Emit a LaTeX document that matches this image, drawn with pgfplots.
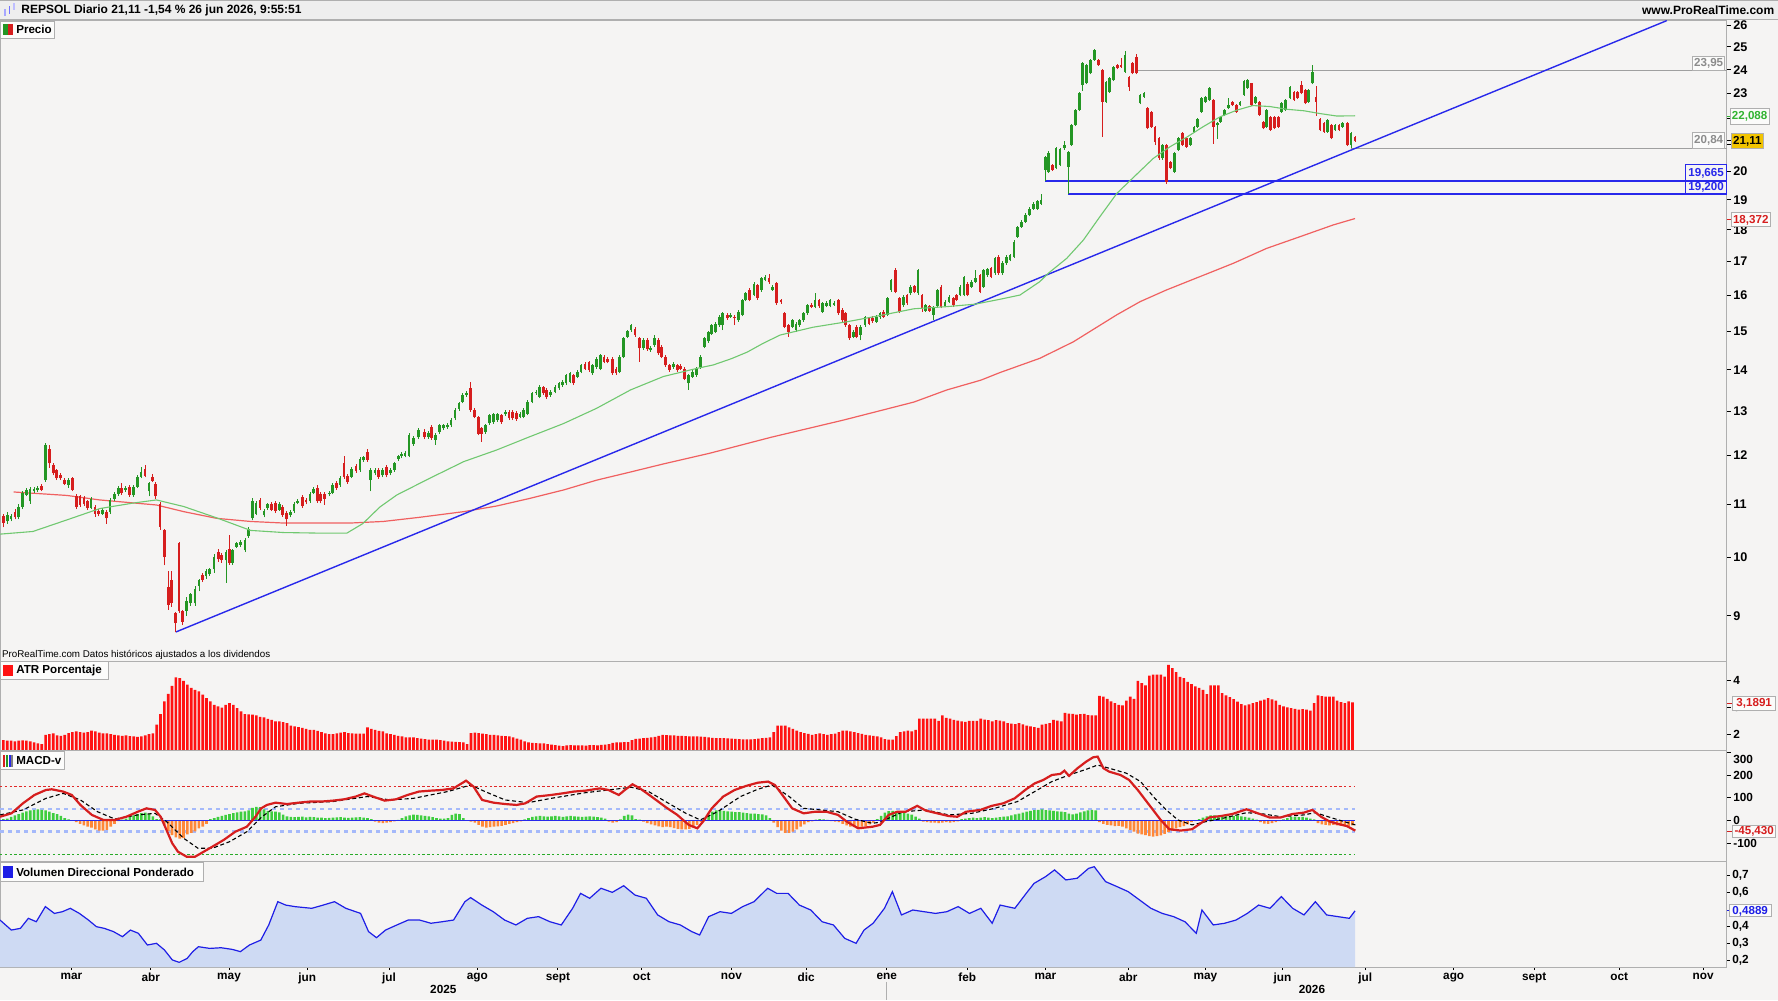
\documentclass[border=0pt]{standalone}
\usepackage{pgfplots}
\usepackage{pgfplotstable}
\pgfplotsset{compat=1.18}
\usepackage{fontspec}
\setmainfont{Liberation Sans}
\definecolor{bg}{RGB}{245,244,243}
\definecolor{hdr}{RGB}{238,238,238}
\definecolor{cgreen}{RGB}{36,150,36}
\definecolor{cred}{RGB}{214,30,30}
\definecolor{magreen}{RGB}{112,200,112}
\definecolor{mared}{RGB}{240,96,96}
\definecolor{tline}{RGB}{40,40,235}
\definecolor{atrred}{RGB}{255,18,18}
\definecolor{hgreen}{RGB}{62,205,62}
\definecolor{horange}{RGB}{255,135,55}
\definecolor{volfill}{RGB}{206,218,243}
\definecolor{volline}{RGB}{30,30,230}
\definecolor{framegray}{RGB}{175,175,175}
\definecolor{labgreen}{RGB}{50,180,50}
\definecolor{yellowbox}{RGB}{242,196,0}
\definecolor{dotblue}{RGB}{165,185,250}
\definecolor{dotgreen}{RGB}{40,170,40}
\definecolor{dotred}{RGB}{225,40,40}
\definecolor{boxgray}{RGB}{140,140,140}
\newcommand{\fsz}[1]{\fontsize{#1}{#1}\selectfont}

\pgfplotstableread{
b z o h l c
0 10 10.76 10.80 10.55 10.64
0 22 10.66 10.85 10.62 10.78
0 33 10.70 10.80 10.66 10.77
0 45 10.84 10.90 10.70 10.74
0 55 10.74 11.00 10.70 10.95
0 67 10.95 11.25 10.90 11.21
0 80 11.18 11.33 11.15 11.28
0 90 11.05 11.35 11.00 11.31
0 102 11.25 11.34 11.22 11.31
0 113 11.27 11.36 11.24 11.33
0 125 11.36 11.40 11.25 11.29
0 137 11.48 12.27 11.45 12.23
0 148 12.15 12.23 11.74 11.83
0 160 11.80 11.85 11.58 11.62
0 170 11.69 11.72 11.48 11.52
0 182 11.58 11.62 11.48 11.52
0 193 11.48 11.52 11.38 11.41
0 205 11.38 11.52 11.33 11.48
0 217 11.52 11.55 11.25 11.28
0 230 11.15 11.20 10.90 10.95
0 240 11.15 11.18 10.95 10.98
0 252 11.12 11.16 10.96 10.99
0 262 11.05 11.08 10.88 10.92
0 273 10.92 11.14 10.90 11.10
0 285 10.95 10.98 10.75 10.81
0 296 10.86 10.90 10.76 10.80
0 308 10.81 10.92 10.78 10.88
0 320 10.84 10.88 10.62 10.72
0 330 10.84 11.12 10.80 11.08
0 343 11.10 11.24 11.06 11.20
0 355 11.20 11.36 11.16 11.33
0 365 11.33 11.42 11.18 11.22
0 377 11.28 11.36 11.24 11.33
0 388 11.35 11.38 11.14 11.18
0 400 11.17 11.38 11.14 11.35
0 412 11.35 11.58 11.32 11.55
0 423 11.55 11.75 11.52 11.65
0 435 11.72 11.80 11.54 11.57
0 447 11.25 11.45 11.15 11.42
0 457 11.55 11.60 11.44 11.47
0 467 11.40 11.44 11.10 11.15
0 480 11.00 11.03 10.50 10.56
0 493 10.50 10.52 9.85 10.00
0 505 9.48 9.75 9.10 9.18
0 515 9.60 9.75 9.15 9.20
0 527 9.04 9.06 8.74 8.88
0 537 10.25 10.28 9.05 9.07
0 548 9.07 9.10 8.85 8.90
0 560 9.08 9.30 9.00 9.24
0 572 9.20 9.38 9.16 9.35
0 585 9.20 9.50 9.16 9.45
0 597 9.50 9.62 9.40 9.60
0 608 9.68 9.72 9.56 9.60
0 618 9.66 9.78 9.62 9.75
0 628 9.70 9.81 9.67 9.78
0 642 9.78 10.05 9.72 10.00
0 655 10.10 10.14 9.92 9.96
0 665 10.03 10.07 9.90 9.94
0 678 9.94 10.12 9.55 10.09
0 688 10.15 10.40 9.86 9.90
0 698 9.90 10.15 9.86 10.12
0 710 10.19 10.28 10.16 10.25
0 722 10.22 10.31 10.19 10.28
0 735 10.12 10.35 10.09 10.32
0 745 10.38 10.56 10.35 10.52
0 757 10.72 11.12 10.68 11.06
0 768 10.81 11.05 10.78 11.01
0 780 11.08 11.12 10.88 10.92
0 792 10.78 10.90 10.74 10.86
0 803 10.92 11.02 10.89 10.99
0 815 11.00 11.04 10.86 10.89
0 826 11.02 11.06 10.82 10.86
0 838 10.89 11.04 10.86 11.00
0 848 10.94 10.98 10.75 10.79
0 860 10.82 10.86 10.58 10.70
0 872 10.78 10.88 10.74 10.84
0 882 10.86 11.04 10.83 11.00
0 893 11.02 11.10 10.99 11.06
0 907 11.14 11.18 10.92 10.96
0 918 11.08 11.12 10.99 11.03
0 930 11.05 11.24 11.02 11.20
0 940 11.22 11.34 11.19 11.30
0 952 11.33 11.38 11.02 11.05
0 962 11.20 11.24 11.01 11.05
0 973 11.20 11.23 10.98 11.10
0 988 11.19 11.26 11.15 11.22
0 998 11.22 11.42 11.19 11.38
0 1010 11.42 11.46 11.29 11.33
0 1020 11.38 11.56 11.35 11.52
0 1032 11.84 12.00 11.51 11.55
0 1043 11.57 11.61 11.41 11.45
0 1055 11.55 11.76 11.52 11.72
0 1068 11.78 11.82 11.63 11.67
0 1080 11.69 11.97 11.66 11.93
0 1090 11.90 12.00 11.87 11.96
0 1102 12.07 12.15 11.87 11.91
0 1112 11.48 11.73 11.25 11.69
0 1125 11.62 11.73 11.58 11.69
0 1135 11.69 11.73 11.51 11.55
0 1147 11.58 11.74 11.54 11.70
0 1160 11.76 11.80 11.54 11.58
0 1172 11.62 11.74 11.58 11.70
0 1183 11.70 11.87 11.66 11.83
0 1195 11.92 12.02 11.88 11.98
0 1205 11.98 12.07 11.94 12.03
0 1215 12.00 12.09 11.96 12.05
0 1227 12.00 12.49 11.96 12.45
0 1240 12.25 12.42 12.21 12.38
0 1255 12.40 12.60 12.36 12.56
202.84 583 12.52 12.58 12.36 12.41
202.84 595 12.41 12.54 12.37 12.50
202.84 605 12.63 12.68 12.34 12.38
202.84 617 12.34 12.49 12.24 12.45
202.84 628 12.52 12.71 12.48 12.67
202.84 640 12.60 12.71 12.56 12.67
202.84 652 12.62 12.72 12.59 12.68
202.84 663 12.67 12.83 12.63 12.79
202.84 675 12.83 13.06 12.79 13.02
202.84 687 13.05 13.22 13.01 13.18
202.84 698 13.22 13.42 13.18 13.38
202.84 710 13.38 13.48 13.34 13.42
202.84 722 13.54 13.70 12.98 13.02
202.84 733 13.02 13.06 12.83 12.87
202.84 745 12.85 12.89 12.44 12.48
202.84 755 12.60 12.64 12.30 12.48
202.84 767 12.52 12.71 12.48 12.67
202.84 778 12.72 12.94 12.68 12.90
202.84 790 12.74 12.96 12.70 12.92
202.84 802 12.79 12.96 12.75 12.92
202.84 814 12.90 12.94 12.70 12.74
202.84 826 12.92 13.02 12.88 12.98
202.84 837 12.98 13.02 12.79 12.83
202.84 848 12.98 13.02 12.79 12.83
202.84 860 12.95 12.99 12.77 12.81
202.84 870 12.87 12.98 12.83 12.94
202.84 880 12.87 13.07 12.83 13.03
202.84 893 12.94 13.26 12.90 13.22
202.84 906 13.22 13.46 13.18 13.42
202.84 918 13.42 13.50 13.38 13.46
202.84 928 13.34 13.62 13.30 13.58
202.84 940 13.56 13.60 13.38 13.42
202.84 950 13.50 13.54 13.28 13.32
202.84 962 13.38 13.50 13.34 13.46
202.84 975 13.46 13.62 13.42 13.58
202.84 987 13.54 13.70 13.50 13.66
202.84 998 13.62 13.74 13.58 13.70
202.84 1008 13.66 13.90 13.62 13.86
202.84 1020 13.70 13.95 13.66 13.91
202.84 1030 13.86 13.90 13.62 13.66
202.84 1042 13.83 13.99 13.79 13.95
202.84 1053 13.95 14.15 13.91 14.11
202.84 1065 14.15 14.19 13.99 14.03
202.84 1077 14.19 14.23 13.95 13.99
202.84 1088 13.91 14.15 13.87 14.11
202.84 1100 14.07 14.32 14.03 14.28
202.84 1112 14.03 14.41 13.99 14.37
202.84 1122 14.33 14.37 14.16 14.20
202.84 1133 14.28 14.32 14.16 14.20
202.84 1147 14.28 14.32 13.87 13.91
202.84 1158 14.03 14.07 13.87 13.91
202.84 1168 13.95 14.37 13.91 14.33
202.84 1180 14.33 14.85 14.29 14.81
202.84 1192 14.86 15.04 14.82 15.00
202.84 1203 15.03 15.20 14.99 15.16
202.84 1215 15.07 15.11 14.86 14.90
202.84 1228 14.81 14.85 14.20 14.55
202.84 1240 14.55 14.82 14.51 14.78
202.84 1252 14.78 14.82 14.48 14.52
202.84 1262 14.50 14.61 14.46 14.57
202.84 1273 14.63 14.90 14.59 14.81
202.84 1285 14.77 14.81 14.38 14.42
202.84 1295 14.59 14.63 14.29 14.33
202.84 1307 14.33 14.37 14.07 14.11
202.84 1318 14.11 14.15 13.95 13.99
202.84 1330 14.07 14.19 14.03 14.15
202.84 1342 14.11 14.15 13.95 13.99
202.84 1352 14.10 14.14 13.99 14.03
202.84 1364 14.03 14.07 13.74 13.78
202.84 1376 13.66 13.90 13.50 13.86
202.84 1387 13.83 13.99 13.79 13.95
202.84 1400 13.87 14.07 13.83 14.03
202.84 1412 14.07 14.37 14.03 14.33
202.84 1423 14.59 14.85 14.55 14.81
202.84 1435 14.73 15.02 14.69 14.98
599.7 95 14.94 15.21 14.90 15.17
599.7 107 14.99 15.25 14.95 15.21
599.7 118 15.17 15.44 15.13 15.40
599.7 128 15.17 15.53 15.03 15.49
599.7 142 15.45 15.50 15.31 15.35
599.7 152 15.40 15.50 15.36 15.46
599.7 163 15.40 15.44 15.17 15.35
599.7 175 15.30 15.58 15.26 15.54
599.7 187 15.45 15.91 15.41 15.87
599.7 197 15.87 16.10 15.83 16.06
599.7 208 16.17 16.21 15.83 15.87
599.7 222 16.01 16.38 15.97 16.34
599.7 233 16.30 16.34 15.88 15.92
599.7 244 16.15 16.54 16.11 16.50
599.7 255 16.45 16.60 16.41 16.53
599.7 267 16.50 16.62 16.34 16.38
599.7 278 16.17 16.29 16.13 16.25
599.7 290 16.35 16.39 15.73 15.77
599.7 303 15.87 15.91 15.76 15.80
599.7 314 15.49 15.53 15.08 15.12
599.7 325 15.17 15.21 14.85 14.99
599.7 337 15.12 15.34 15.08 15.30
599.7 348 15.03 15.25 14.99 15.21
599.7 358 15.17 15.34 15.13 15.30
599.7 370 15.30 15.53 15.26 15.49
599.7 382 15.49 15.76 15.45 15.72
599.7 395 15.74 15.78 15.63 15.67
599.7 405 15.67 16.08 15.63 15.87
599.7 417 15.87 15.91 15.65 15.69
599.7 428 15.54 15.81 15.50 15.77
599.7 440 15.70 15.83 15.66 15.79
599.7 450 15.70 15.91 15.66 15.87
599.7 462 15.74 15.83 15.70 15.79
599.7 475 15.87 15.91 15.45 15.49
599.7 487 15.59 15.63 15.26 15.30
599.7 497 15.49 15.53 15.13 15.17
599.7 508 15.17 15.21 14.77 14.81
599.7 520 14.85 15.03 14.81 14.99
599.7 530 15.12 15.16 14.81 14.85
599.7 542 14.90 15.16 14.76 15.12
599.7 555 15.17 15.42 15.13 15.38
599.7 567 15.35 15.39 15.17 15.21
599.7 578 15.37 15.41 15.23 15.27
599.7 589 15.26 15.44 15.22 15.40
599.7 600 15.38 15.53 15.34 15.49
599.7 611 15.54 15.58 15.36 15.40
599.7 622 15.45 15.96 15.41 15.92
599.7 633 16.15 16.49 16.11 16.45
599.7 647 16.74 16.80 16.06 16.10
599.7 658 15.92 15.96 15.50 15.54
599.7 670 15.72 16.00 15.68 15.96
599.7 681 16.01 16.05 15.73 15.77
599.7 692 16.06 16.29 16.02 16.25
599.7 703 16.27 16.31 16.06 16.10
599.7 714 16.06 16.78 16.02 16.74
599.7 726 16.01 16.05 15.54 15.63
599.7 737 15.57 15.76 15.53 15.72
599.7 748 15.69 15.73 15.53 15.57
599.7 760 15.45 15.71 15.30 15.67
599.7 772 15.69 16.19 15.65 16.15
599.7 783 16.25 16.29 15.63 15.67
599.7 795 15.70 15.86 15.66 15.82
599.7 807 15.82 16.00 15.78 15.96
599.7 820 15.92 15.96 15.68 15.72
599.7 830 16.01 16.05 15.83 15.87
599.7 840 16.01 16.29 15.97 16.25
599.7 852 16.01 16.57 15.97 16.53
599.7 863 16.34 16.38 15.97 16.01
599.7 875 16.25 16.44 16.21 16.40
599.7 886 16.40 16.74 16.36 16.50
599.7 900 16.59 16.63 16.06 16.10
599.7 910 16.25 16.78 16.21 16.74
599.7 922 16.59 16.81 16.55 16.77
599.7 933 16.80 16.84 16.50 16.54
599.7 945 16.65 17.14 16.61 17.10
599.7 956 17.15 17.19 16.61 16.65
599.7 967 16.65 17.01 16.61 16.97
599.7 980 16.95 17.19 16.91 17.15
599.7 990 17.05 17.24 17.01 17.20
599.7 1002 17.15 17.66 17.11 17.62
599.7 1013 17.78 18.14 17.74 18.10
599.7 1025 18.10 18.31 18.06 18.27
899.55 17 18.27 18.54 18.23 18.50
899.55 28 18.48 18.74 18.44 18.70
899.55 40 18.70 18.91 18.66 18.87
899.55 52 18.70 19.00 18.66 18.96
899.55 63 18.87 19.20 18.83 18.98
899.55 76 20.04 20.56 19.66 20.52
899.55 86 19.97 20.72 19.93 20.68
899.55 97 20.22 20.26 20.00 20.04
899.55 108 20.10 20.87 20.06 20.83
899.55 120 20.22 20.84 20.18 20.80
899.55 133 20.83 21.10 20.79 20.96
899.55 145 20.16 20.75 19.20 20.71
899.55 155 20.96 21.76 20.92 21.72
899.55 166 21.72 22.36 21.68 22.32
899.55 178 22.32 23.04 22.28 23.00
899.55 188 23.34 24.31 23.10 24.27
899.55 200 23.41 24.24 23.37 24.20
899.55 211 23.84 24.46 23.80 24.42
899.55 223 24.42 24.92 24.38 24.88
899.55 235 24.42 24.46 24.16 24.20
899.55 247 23.98 24.02 21.27 22.65
899.55 258 22.65 23.53 22.61 23.49
899.55 268 23.07 23.67 23.03 23.63
899.55 280 23.55 24.17 23.51 24.13
899.55 292 24.20 24.24 24.01 24.05
899.55 303 24.20 24.50 24.09 24.13
899.55 315 23.91 24.80 23.87 24.64
899.55 327 23.70 23.74 23.10 23.27
899.55 338 24.27 24.31 23.80 23.84
899.55 350 24.55 24.70 23.80 23.84
899.55 360 22.59 22.97 22.55 22.93
899.55 372 22.86 23.04 22.82 23.00
899.55 383 22.39 22.43 21.56 21.60
899.55 395 22.25 22.29 21.62 21.66
899.55 405 21.66 21.70 20.96 21.08
899.55 417 21.21 21.25 20.42 20.46
899.55 428 20.46 21.00 20.42 20.96
899.55 440 20.96 21.00 19.54 19.62
899.55 452 20.34 20.38 20.06 20.10
899.55 463 19.97 20.69 19.93 20.65
899.55 475 20.77 21.25 20.73 21.21
899.55 488 21.40 21.44 20.92 20.96
899.55 500 21.21 21.25 20.86 20.90
899.55 512 20.96 21.25 20.92 21.21
899.55 522 21.47 21.70 21.43 21.66
899.55 533 21.66 22.02 21.62 21.98
899.55 545 22.25 22.83 22.21 22.79
899.55 557 22.65 22.90 22.61 22.86
899.55 568 22.72 23.25 22.68 23.21
899.55 580 22.72 22.76 21.00 21.66
899.55 593 21.72 21.83 21.20 21.79
899.55 602 21.86 22.09 21.82 22.05
899.55 613 22.12 22.36 22.08 22.32
899.55 625 22.39 22.80 22.35 22.52
899.55 637 22.65 22.69 22.48 22.52
899.55 650 22.52 22.56 22.21 22.25
899.55 660 22.52 22.69 22.48 22.65
899.55 672 22.93 23.56 22.89 23.52
899.55 683 23.21 23.59 23.17 23.55
899.55 695 23.41 23.45 22.48 22.52
899.55 707 22.59 22.90 22.55 22.86
899.55 718 22.65 22.69 22.08 22.12
899.55 730 21.86 21.90 21.56 21.60
899.55 740 21.66 22.36 21.62 22.32
899.55 752 22.05 22.09 21.49 21.53
899.55 764 22.05 22.09 21.56 21.60
899.55 775 22.05 22.09 21.62 21.66
899.55 785 22.25 22.63 22.21 22.59
899.55 797 22.32 22.76 22.28 22.72
899.55 810 22.79 23.31 22.75 23.27
899.55 822 23.07 23.11 22.68 22.72
899.55 833 23.07 23.11 22.75 22.79
899.55 845 23.34 23.50 22.96 23.00
899.55 857 23.14 23.18 22.55 22.59
899.55 865 22.65 23.18 22.61 23.14
899.55 877 23.41 24.20 23.37 23.91
899.55 888 22.86 23.30 22.10 22.65
899.55 900 21.98 22.02 21.49 21.53
899.55 912 21.79 21.83 21.43 21.47
899.55 922 21.47 21.96 21.43 21.92
899.55 935 21.72 21.76 21.17 21.21
899.55 945 21.53 21.76 21.49 21.72
899.55 957 21.72 21.76 21.49 21.53
899.55 968 21.66 21.83 21.62 21.79
899.55 982 21.79 21.83 20.92 20.96
899.55 993 20.96 21.44 20.84 21.40
899.55 1005 21.27 21.31 21.07 21.11
}\candles

\pgfplotstableread{
x p
0 10.42
29 10.47
59 10.69
88 10.91
118 11.02
138 11.08
162 10.95
191 10.73
221 10.49
250 10.45
279 10.44
306 10.44
320 10.62
335 10.94
350 11.18
379 11.52
409 11.87
438 12.12
467 12.41
497 12.71
526 13.06
556 13.50
585 13.83
614 14.03
629 14.12
645 14.28
659 14.45
673 14.68
688 14.90
717 15.11
747 15.26
776 15.43
806 15.62
835 15.68
860 15.75
882 15.89
899.5 16.01
917 16.40
924.5 16.65
940.7 17.10
955.4 17.67
970 18.43
985 19.22
997 19.68
1017 20.46
1032 20.90
1047 21.27
1061 21.66
1076 22.05
1091 22.32
1105 22.50
1120 22.46
1135 22.35
1150 22.29
1164 22.18
1179 22.08
1195 22.09
}\gma

\pgfplotstableread{
x p
12 11.24
59 11.17
88 11.08
118 11.02
138 10.98
162 10.85
191 10.72
221 10.66
250 10.63
279 10.63
309 10.63
338 10.66
370 10.74
409 10.85
438 10.96
467 11.11
497 11.28
526 11.48
556 11.65
585 11.82
626 12.05
680 12.40
744 12.79
806 13.21
835 13.50
865 13.74
882 13.93
917 14.29
946.6 14.72
984.8 15.45
1005.4 15.82
1028.9 16.16
1058.3 16.55
1087.7 16.95
1117.1 17.41
1146.5 17.78
1175.9 18.16
1195 18.37
}\rma

\pgfplotstableread[row sep=\\]{
v\\
1.80\\1.78\\1.78\\1.76\\1.78\\1.79\\1.78\\1.76\\1.72\\1.68\\
1.66\\2.00\\2.02\\2.05\\1.98\\1.96\\2.00\\2.06\\2.10\\2.12\\
2.10\\2.08\\2.10\\2.15\\2.12\\2.08\\2.05\\2.05\\2.02\\2.00\\
1.98\\1.96\\1.98\\1.95\\1.94\\1.92\\1.94\\1.98\\2.02\\2.05\\
2.37\\2.76\\3.23\\3.50\\3.80\\4.11\\4.08\\3.98\\3.84\\3.72\\
3.65\\3.59\\3.47\\3.35\\3.23\\3.10\\3.04\\3.00\\3.10\\3.16\\
3.10\\2.98\\2.86\\2.76\\2.75\\2.74\\2.71\\2.66\\2.64\\2.58\\
2.55\\2.49\\2.49\\2.46\\2.43\\2.34\\2.31\\2.28\\2.25\\2.22\\
2.18\\2.18\\2.14\\2.10\\2.05\\2.02\\2.02\\2.05\\2.08\\2.10\\
2.06\\2.05\\2.04\\2.04\\2.04\\2.27\\2.22\\2.18\\2.14\\2.12\\
2.05\\2.02\\2.00\\1.96\\1.94\\1.90\\1.90\\1.90\\1.88\\1.86\\
1.84\\1.82\\1.82\\1.82\\1.80\\1.78\\1.76\\1.75\\1.74\\1.73\\
1.72\\1.66\\2.06\\2.08\\2.06\\2.04\\2.02\\2.00\\2.00\\1.98\\
1.96\\1.95\\1.94\\1.90\\1.86\\1.82\\1.76\\1.72\\1.70\\1.69\\
1.68\\1.68\\1.66\\1.64\\1.62\\1.60\\1.58\\1.61\\1.62\\1.61\\
1.61\\1.61\\1.60\\1.62\\1.62\\1.61\\1.63\\1.64\\1.66\\1.70\\
1.72\\1.72\\1.73\\1.73\\1.80\\1.85\\1.86\\1.88\\1.89\\1.90\\
1.92\\1.96\\2.00\\1.99\\1.98\\1.98\\1.96\\1.96\\1.95\\1.94\\
1.94\\1.94\\1.93\\1.92\\1.90\\1.89\\1.88\\1.88\\1.88\\1.87\\
1.86\\1.85\\1.84\\1.83\\1.83\\1.83\\1.84\\1.86\\1.88\\1.89\\
1.90\\2.10\\2.34\\2.34\\2.34\\2.27\\2.22\\2.15\\2.10\\2.06\\
2.03\\2.00\\2.02\\2.05\\2.02\\2.00\\2.02\\2.04\\2.10\\2.15\\
2.15\\2.12\\2.10\\2.06\\2.03\\2.00\\1.98\\1.96\\1.94\\1.90\\
1.84\\1.82\\1.82\\1.95\\2.10\\2.12\\2.15\\2.12\\2.18\\2.59\\
2.59\\2.59\\2.59\\2.59\\2.51\\2.71\\2.62\\2.59\\2.55\\2.52\\
2.49\\2.47\\2.51\\2.51\\2.51\\2.59\\2.56\\2.54\\2.49\\2.54\\
2.52\\2.49\\2.43\\2.41\\2.39\\2.43\\2.38\\2.34\\2.31\\2.28\\
2.25\\2.37\\2.40\\2.43\\2.55\\2.52\\2.49\\2.80\\2.78\\2.77\\
2.74\\2.76\\2.77\\2.72\\2.71\\2.71\\3.43\\3.40\\3.32\\3.23\\
3.16\\3.10\\3.08\\3.25\\3.40\\3.32\\3.98\\3.90\\3.81\\4.17\\
4.21\\4.21\\4.21\\4.14\\4.57\\4.45\\4.30\\4.13\\4.08\\3.94\\
3.86\\3.78\\3.72\\3.65\\3.49\\3.81\\3.81\\3.81\\3.53\\3.45\\
3.38\\3.31\\3.22\\3.13\\3.08\\3.12\\3.16\\3.20\\3.25\\3.29\\
3.35\\3.30\\3.25\\3.10\\3.04\\3.01\\2.98\\2.95\\2.92\\2.94\\
2.92\\2.89\\3.16\\3.45\\3.42\\3.40\\3.40\\3.40\\3.25\\3.20\\
3.16\\3.23\\3.19\\
}\atrtab

\pgfplotstableread[row sep=\\]{
v\\
5\\8\\15\\22\\28\\34\\40\\44\\46\\48\\
46\\44\\38\\32\\28\\20\\10\\4\\0\\-8\\
-15\\-22\\-28\\-32\\-40\\-45\\-45\\-42\\-28\\-15\\
-3\\3\\8\\15\\22\\28\\32\\34\\30\\18\\
6\\4\\-20\\-47\\-65\\-75\\-80\\-78\\-62\\-55\\
-48\\-35\\-28\\-15\\5\\10\\15\\20\\24\\28\\
32\\35\\38\\40\\44\\55\\60\\58\\48\\42\\
40\\38\\35\\25\\18\\15\\14\\15\\16\\13\\
15\\14\\12\\12\\10\\11\\12\\13\\14\\12\\
11\\12\\13\\14\\12\\10\\6\\-5\\-10\\-12\\
-10\\-8\\-4\\2\\10\\18\\22\\25\\24\\22\\
20\\18\\14\\10\\8\\8\\10\\24\\30\\28\\
10\\0\\-5\\-10\\-20\\-28\\-32\\-30\\-28\\-26\\
-24\\-20\\-16\\-12\\-8\\-4\\4\\10\\15\\18\\
20\\18\\16\\18\\20\\18\\15\\18\\20\\18\\
16\\15\\17\\18\\16\\14\\12\\8\\-6\\-10\\
-8\\4\\20\\25\\22\\5\\3\\-5\\-12\\-18\\
-22\\-26\\-30\\-28\\-30\\-34\\-38\\-40\\-40\\-38\\
-32\\-20\\-8\\10\\25\\38\\44\\44\\42\\40\\
38\\36\\36\\34\\32\\30\\30\\28\\26\\22\\
10\\-10\\-30\\-45\\-55\\-55\\-50\\-40\\-28\\-18\\
-8\\-4\\3\\5\\4\\2\\-3\\-5\\-8\\-15\\
-22\\-28\\-30\\-30\\-28\\-25\\-18\\-10\\5\\20\\
34\\41\\42\\40\\38\\36\\30\\25\\16\\8\\
-5\\-8\\-10\\-10\\-12\\-10\\-8\\-10\\-8\\-4\\
5\\8\\10\\12\\10\\12\\14\\12\\10\\12\\
14\\16\\18\\22\\26\\30\\34\\38\\42\\45\\
46\\48\\45\\44\\42\\40\\38\\36\\30\\26\\
30\\35\\40\\44\\46\\44\\-8\\-15\\-20\\-22\\
-25\\-24\\-28\\-35\\-42\\-50\\-58\\-62\\-65\\-70\\
-72\\-70\\-66\\-60\\-52\\-45\\-35\\-30\\-25\\-18\\
-8\\-3\\5\\12\\18\\22\\22\\20\\22\\20\\
18\\20\\22\\18\\15\\12\\8\\3\\-8\\-14\\
-15\\-12\\-8\\-3\\4\\10\\15\\15\\14\\15\\
12\\8\\4\\-12\\-18\\-20\\-22\\-20\\-22\\-24\\
-25\\-24\\-22\\
}\histtab

\pgfplotsset{panel/.style={
  scale only axis, width=863.47pt, xmin=0, xmax=1523,
  anchor=south west,
  axis background/.style={fill=bg},
  axis line style={framegray, line width=0.5pt},
  xtick=\empty,
  ytick pos=right, yticklabel pos=right,
  tick align=outside, major tick length=2pt,
  tick style={black, line width=0.4pt},
  yticklabel style={font=\fsz{5.9}\bfseries, anchor=west, inner sep=1pt},
  clip=true,
}}

\begin{document}
\begin{tikzpicture}
\path[use as bounding box, fill=bg] (0,0) rectangle (889pt,500.05pt);

% ---------------- PRICE ----------------
\begin{axis}[panel, at={(0pt,169.52pt)}, height=320.33pt,
  ymin=2.115759, ymax=3.266471,
  ytick={2.197225,2.302585,2.397895,2.484907,2.564949,2.639057,2.708050,2.772589,2.833213,2.890372,2.944439,2.995732,3.044522,3.091042,3.135494,3.178054,3.218876,3.258097},
  yticklabels={9,10,11,12,13,14,15,16,17,18,19,20,{},{},23,24,25,26},
  yticklabel style={font=\fsz{6.3}\bfseries}]
\addplot[gray!75, line width=0.5pt] table[x=x, y expr=ln(\thisrow{p})] {x p
1002.5 23.95
1523 23.95
};
\addplot[gray!75, line width=0.5pt] table[x=x, y expr=ln(\thisrow{p})] {x p
1191.5 20.84
1523 20.84
};
\addplot[tline, line width=0.9pt] table[x=x, y expr=ln(\thisrow{p})] {x p
921.8 19.665
1523 19.665
};
\addplot[tline, line width=0.9pt] table[x=x, y expr=ln(\thisrow{p})] {x p
942.2 19.2
1523 19.2
};
\addplot[mared, line width=0.6pt] table[x=x, y expr=ln(\thisrow{p})] \rma;
\addplot[tline, line width=0.7pt] table[x=x, y expr=ln(\thisrow{p})] {x p
155 8.74
1470 26.21
};
\addplot[cgreen, -, line width=0.45pt,
  restrict expr to domain={\thisrow{c}-\thisrow{o}}{0:100},
  quiver={u=0, v={ln(\thisrow{h})-ln(\thisrow{l})}}]
  table[x expr=\thisrow{b}+0.29397*\thisrow{z}, y expr=ln(\thisrow{l})] \candles;
\addplot[cred, -, line width=0.45pt,
  restrict expr to domain={\thisrow{c}-\thisrow{o}}{-100:-0.00001},
  quiver={u=0, v={ln(\thisrow{h})-ln(\thisrow{l})}}]
  table[x expr=\thisrow{b}+0.29397*\thisrow{z}, y expr=ln(\thisrow{l})] \candles;
\addplot[cgreen, -, line width=1.25pt,
  restrict expr to domain={\thisrow{c}-\thisrow{o}}{0:100},
  quiver={u=0, v={ln(\thisrow{c})-ln(\thisrow{o})}}]
  table[x expr=\thisrow{b}+0.29397*\thisrow{z}, y expr=ln(\thisrow{o})] \candles;
\addplot[cred, -, line width=1.25pt,
  restrict expr to domain={\thisrow{c}-\thisrow{o}}{-100:-0.00001},
  quiver={u=0, v={ln(\thisrow{o})-ln(\thisrow{c})}}]
  table[x expr=\thisrow{b}+0.29397*\thisrow{z}, y expr=ln(\thisrow{c})] \candles;
\addplot[magreen, line width=0.55pt] table[x=x, y expr=ln(\thisrow{p})] \gma;
\end{axis}

% ---------------- ATR ----------------
\begin{axis}[panel, at={(0pt,124.73pt)}, height=44.79pt,
  ymin=1.4167, ymax=4.7083, ytick={2,3,4}, yticklabels={2,3,4}]
\addplot[ybar, bar width=2.3, fill=atrred, draw=none] table[x expr=3+3.38*\coordindex, y=v] \atrtab;
\end{axis}

% ---------------- MACD ----------------
\begin{axis}[panel, at={(0pt,69.17pt)}, height=55.56pt,
  ymin=-182.5, ymax=307.5, ytick={-100,0,100,200}, yticklabels={-100,0,100,200},
  extra y ticks={300}, extra y tick labels={300},
  extra y tick style={yticklabel style={yshift=-3.4pt}}]
\addplot[dotred, line width=0.6pt, dash pattern=on 1.2pt off 1.2pt] coordinates {(0,150) (1195,150)};
\addplot[dotgreen, line width=0.6pt, dash pattern=on 1.2pt off 1.2pt] coordinates {(0,-150) (1195,-150)};
\addplot[dotblue, line width=1.3pt, dash pattern=on 2pt off 2pt] coordinates {(0,50) (1195,50)};
\addplot[dotblue, line width=1.3pt, dash pattern=on 2pt off 2pt] coordinates {(0,-50) (1195,-50)};
\addplot[ybar, bar width=2.3, fill=hgreen, draw=none, restrict expr to domain={\thisrow{v}}{0:1000}] table[x expr=3+3.38*\coordindex, y=v] \histtab;
\addplot[ybar, bar width=2.3, fill=horange, draw=none, restrict expr to domain={\thisrow{v}}{-1000:-0.001}] table[x expr=3+3.38*\coordindex, y=v] \histtab;
\addplot[tline, line width=0.8pt] coordinates {(0,0) (1195,0)};
\addplot[black, line width=0.55pt, dash pattern=on 2pt off 1.3pt] coordinates {
(0,24) (20.2,46) (40.5,97) (55.7,119) (70.9,90) (86.1,38) (101.2,6) (121.5,24) (136.7,31) (146.8,-5) (162,-79) (174.6,-123) (187.3,-123) (202.5,-94) (217.7,-50) (230.3,13) (243,60) (263.2,75) (293.6,83) (324,105) (344.2,90) (364.5,97) (394.8,127) (415.1,156) (427.7,127) (445.5,90) (465.7,78) (486,97) (516.3,122) (541.6,137) (556.8,146) (572,127) (589.7,75) (604.9,31) (617.6,2) (632.8,38) (653,105) (668.2,137) (680.8,156) (696,105) (708.7,53) (723.9,46) (739.1,38) (754.2,5) (769.4,-13) (776.1,-8) (796.3,38) (816.5,46) (836.7,24) (856.9,31) (877.1,53) (897.3,83) (912.5,127) (927.6,171) (942.8,200) (957.9,225) (968,244) (978.1,230) (993.3,208) (1005.9,171) (1018.5,97) (1028.6,46) (1038.7,2) (1051.3,-20) (1064,-5) (1079.1,10) (1099.3,34) (1114.5,28) (1129.6,16) (1149.8,24) (1159.9,34) (1175.1,10) (1195.3,-20)};
\addplot[cred, line width=1.1pt] coordinates {
(0,16) (10.1,31) (20.2,75) (30.4,112) (40.5,134) (45.6,137) (55.7,127) (63.3,112) (70.9,68) (81,24) (91.1,2) (101.2,2) (111.4,16) (121.5,38) (129.1,53) (136.7,46) (141.7,16) (146.8,-42) (151.9,-101) (156.9,-138) (164.5,-160) (172.1,-160) (179.7,-138) (187.3,-116) (197.4,-86) (207.5,-50) (217.7,-28) (225.3,16) (230.3,53) (235.4,68) (243,78) (253.1,72) (263.2,78) (273.3,83) (283.5,83) (293.6,87) (303.7,93) (313.8,105) (321.4,119) (329,105) (339.2,87) (349.3,93) (359.4,112) (369.5,127) (379.7,131) (389.8,134) (399.9,141) (411,175) (417.6,149) (425.2,90) (435.3,78) (445.5,72) (455.6,68) (463.2,75) (473.3,105) (486,112) (496.1,119) (506.2,127) (516.3,131) (529,141) (536.6,134) (545.7,112) (551.8,137) (557.8,159) (564.4,141) (574.5,105) (587.2,58) (597.3,24) (607.4,-20) (615,-35) (620.1,-5) (627.7,53) (637.8,105) (647.9,134) (658.1,152) (668.2,166) (677.3,171) (683.4,156) (691,105) (698.6,53) (708.7,31) (718.8,38) (728.9,38) (739.1,24) (746.6,-5) (756.8,-35) (769.4,-28) (776.1,-20) (783.7,24) (791.3,38) (798.8,38) (808.9,64) (816.5,43) (826.6,31) (836.7,19) (844.3,16) (851.9,38) (864.5,46) (874.6,64) (884.7,75) (894.8,97) (904.9,137) (912.5,163) (920,178) (927.6,200) (935.2,205) (938.7,219) (942.8,196) (950.3,230) (957.9,259) (964,278) (968,281) (973.1,230) (978.1,215) (988.2,200) (995.8,178) (1003.4,134) (1013.5,68) (1023.6,2) (1031.2,-39) (1041.2,-45) (1051.3,-39) (1058.9,-13) (1066.5,13) (1076.6,19) (1086.7,28) (1099.3,49) (1109.4,31) (1119.5,13) (1129.6,13) (1139.7,28) (1149.8,34) (1157.4,46) (1165,16) (1172.6,-5) (1180.1,-16) (1187.7,-25) (1195.3,-45.43)};
\end{axis}

% ---------------- VOLUME ----------------
\begin{axis}[panel, at={(0pt,16.44pt)}, height=52.73pt,
  ymin=0.1573, ymax=0.7781, ytick={0.2,0.3,0.4,0.6,0.7}, yticklabels={{0,2},{0,3},{0,4},{0,6},{0,7}},
  xtick={63,133,202,271,343,421,492,566,645,711,782,853,922,995,1063,1131,1204,1282,1353,1428,1502},
  xticklabels={mar,abr,may,jun,jul,ago,sept,oct,nov,dic,ene,feb,mar,abr,may,jun,jul,ago,sept,oct,nov},
  xtick pos=lower, major tick length=1.5pt,
  xticklabel style={font=\fsz{5.9}\bfseries, inner sep=1.2pt}]
\addplot[fill=volfill, draw=none] coordinates {
(0,0.435) (10,0.376) (18,0.386) (25,0.445) (32,0.425) (40,0.514) (48,0.474) (55,0.484) (62,0.504) (70,0.474) (78,0.435) (85,0.396) (92,0.386) (100,0.367) (108,0.337) (115,0.376) (122,0.357) (130,0.288) (138,0.298) (145,0.259) (152,0.200) (158,0.186) (165,0.209) (170,0.249) (175,0.278) (185,0.268) (195,0.272) (205,0.262) (212,0.249) (220,0.288) (230,0.317) (237,0.406) (245,0.543) (252,0.523) (260,0.514) (275,0.504) (285,0.523) (295,0.543) (305,0.504) (318,0.474) (325,0.367) (332,0.331) (340,0.376) (350,0.406) (360,0.435) (370,0.435) (380,0.416) (390,0.425) (400,0.435) (410,0.543) (415,0.567) (425,0.523) (435,0.484) (445,0.435) (455,0.406) (465,0.445) (475,0.455) (485,0.425) (495,0.406) (505,0.504) (512,0.592) (520,0.563) (530,0.622) (540,0.598) (550,0.637) (560,0.582) (570,0.563) (580,0.465) (590,0.425) (600,0.406) (610,0.367) (617,0.347) (625,0.455) (635,0.484) (645,0.474) (655,0.514) (665,0.543) (677,0.622) (685,0.592) (695,0.592) (705,0.523) (715,0.494) (725,0.425) (735,0.406) (745,0.327) (755,0.298) (762,0.376) (770,0.416) (780,0.504) (787,0.602) (795,0.465) (805,0.494) (815,0.484) (825,0.474) (835,0.484) (845,0.514) (855,0.474) (865,0.504) (875,0.416) (882,0.523) (895,0.504) (905,0.592) (912,0.651) (922,0.690) (930,0.730) (940,0.671) (950,0.681) (960,0.739) (965,0.749) (975,0.661) (985,0.632) (995,0.602) (1005,0.553) (1015,0.504) (1025,0.474) (1035,0.455) (1045,0.425) (1055,0.357) (1060,0.494) (1070,0.406) (1080,0.416) (1090,0.435) (1100,0.474) (1110,0.523) (1120,0.504) (1130,0.573) (1140,0.504) (1150,0.465) (1160,0.543) (1170,0.465) (1180,0.455) (1190,0.445) (1195,0.489)} \closedcycle;
\addplot[volline, line width=0.6pt] coordinates {
(0,0.435) (10,0.376) (18,0.386) (25,0.445) (32,0.425) (40,0.514) (48,0.474) (55,0.484) (62,0.504) (70,0.474) (78,0.435) (85,0.396) (92,0.386) (100,0.367) (108,0.337) (115,0.376) (122,0.357) (130,0.288) (138,0.298) (145,0.259) (152,0.200) (158,0.186) (165,0.209) (170,0.249) (175,0.278) (185,0.268) (195,0.272) (205,0.262) (212,0.249) (220,0.288) (230,0.317) (237,0.406) (245,0.543) (252,0.523) (260,0.514) (275,0.504) (285,0.523) (295,0.543) (305,0.504) (318,0.474) (325,0.367) (332,0.331) (340,0.376) (350,0.406) (360,0.435) (370,0.435) (380,0.416) (390,0.425) (400,0.435) (410,0.543) (415,0.567) (425,0.523) (435,0.484) (445,0.435) (455,0.406) (465,0.445) (475,0.455) (485,0.425) (495,0.406) (505,0.504) (512,0.592) (520,0.563) (530,0.622) (540,0.598) (550,0.637) (560,0.582) (570,0.563) (580,0.465) (590,0.425) (600,0.406) (610,0.367) (617,0.347) (625,0.455) (635,0.484) (645,0.474) (655,0.514) (665,0.543) (677,0.622) (685,0.592) (695,0.592) (705,0.523) (715,0.494) (725,0.425) (735,0.406) (745,0.327) (755,0.298) (762,0.376) (770,0.416) (780,0.504) (787,0.602) (795,0.465) (805,0.494) (815,0.484) (825,0.474) (835,0.484) (845,0.514) (855,0.474) (865,0.504) (875,0.416) (882,0.523) (895,0.504) (905,0.592) (912,0.651) (922,0.690) (930,0.730) (940,0.671) (950,0.681) (960,0.739) (965,0.749) (975,0.661) (985,0.632) (995,0.602) (1005,0.553) (1015,0.504) (1025,0.474) (1035,0.455) (1045,0.425) (1055,0.357) (1060,0.494) (1070,0.406) (1080,0.416) (1090,0.435) (1100,0.474) (1110,0.523) (1120,0.504) (1130,0.573) (1140,0.504) (1150,0.465) (1160,0.543) (1170,0.465) (1180,0.455) (1190,0.445) (1195,0.489)};
\end{axis}

% ---------------- ANNOTATIONS (shrunk-pixel frame) ----------------
\begin{scope}[shift={(0pt,500.05pt)}, x=0.56695pt, y=-0.56695pt]
\fill[hdr] (0,0) rectangle (1568,17.5);
\draw[framegray, line width=0.5pt] (0,0.4) -- (1568,0.4);
\draw[framegray, line width=0.5pt] (0,17.5) -- (1568,17.5);
\fill[blue!35] (3.5,8) rectangle (5.2,14);
\fill[blue!55] (7.5,5) rectangle (9.2,12);
\fill[blue!25] (11.5,3) rectangle (13.2,9);
\node[anchor=west, font=\fsz{6}\bfseries, inner sep=0] at (18.5,9) {REPSOL Diario 21,11 -1,54 \% 26 jun 2026, 9:55:51};
\node[anchor=east, font=\fsz{6}\bfseries, inner sep=0] at (1565,9) {www.ProRealTime.com};
\filldraw[fill=white!70!bg, draw=framegray, line width=0.4pt] (0,18.5) rectangle (48,33.5);
\fill[cgreen] (2.5,21.5) rectangle (7,31);
\fill[cred] (7,21.5) rectangle (11.5,31);
\node[anchor=west, font=\fsz{5.8}\bfseries, inner sep=0] at (14,26.2) {Precio};
\node[anchor=west, font=\fsz{4.9}, inner sep=0] at (1.5,577.5) {ProRealTime.com  Datos históricos ajustados a los dividendos};
\filldraw[fill=white!70!bg, draw=framegray, line width=0.4pt] (0,583.5) rectangle (96,599);
\fill[atrred] (2.5,586.5) rectangle (11.5,596);
\node[anchor=west, font=\fsz{5.8}\bfseries, inner sep=0] at (14,591.4) {ATR Porcentaje};
\filldraw[fill=white!70!bg, draw=framegray, line width=0.4pt] (0,662.5) rectangle (57,678.5);
\fill[cred] (2.5,665.5) rectangle (4.5,676);
\fill[cgreen] (5,665.5) rectangle (7,676);
\fill[tline] (7.5,665.5) rectangle (9.5,676);
\fill[gray] (10,665.5) rectangle (11.5,676);
\node[anchor=west, font=\fsz{5.8}\bfseries, inner sep=0] at (14,670.8) {MACD-v};
\filldraw[fill=white!70!bg, draw=framegray, line width=0.4pt] (0,760.5) rectangle (179,777);
\fill[volline] (2.5,763.5) rectangle (11.5,774);
\node[anchor=west, font=\fsz{5.8}\bfseries, inner sep=0] at (14,769) {Volumen Direccional Ponderado};
\filldraw[fill=white!60!bg, draw=framegray, line width=0.4pt] (1492.7,49.4) rectangle (1521,62.3);
\node[text=boxgray, font=\fsz{5.8}\bfseries, inner sep=0] at (1506.85,55.9) {23,95};
\filldraw[fill=white!60!bg, draw=framegray, line width=0.4pt] (1492.7,117) rectangle (1521,130.8);
\node[text=boxgray, font=\fsz{5.8}\bfseries, inner sep=0] at (1506.85,124) {20,84};
\draw[tline, line width=0.6pt] (1486.6,144.9) rectangle (1522.7,171.4);
\node[text=tline, font=\fsz{5.8}\bfseries, inner sep=0] at (1504.6,152.6) {19,665};
\node[text=tline, font=\fsz{5.8}\bfseries, inner sep=0] at (1504.6,165.6) {19,200};
\draw[labgreen, line width=0.5pt] (1523,102.7) -- (1526,102.7);
\filldraw[fill=white!60!bg, draw=framegray, line width=0.4pt] (1526,96) rectangle (1560,109.4);
\node[text=labgreen, font=\fsz{5.8}\bfseries, inner sep=0] at (1543,102.9) {22,088};
\draw[black, line width=0.5pt] (1523,124.2) -- (1527,124.2);
\filldraw[fill=yellowbox, draw=framegray, line width=0.4pt] (1527,117.6) rectangle (1555,130.8);
\node[text=black, font=\fsz{5.8}\bfseries, inner sep=0] at (1541,124.4) {21,11};
\draw[cred, line width=0.5pt] (1523,193.7) -- (1527,193.7);
\filldraw[fill=white!60!bg, draw=framegray, line width=0.4pt] (1527,187.6) rectangle (1561,199.9);
\node[text=cred, font=\fsz{5.8}\bfseries, inner sep=0] at (1544,193.9) {18,372};
\draw[cred, line width=0.5pt] (1523,620.3) -- (1528,620.3);
\filldraw[fill=white!60!bg, draw=framegray, line width=0.4pt] (1528,614.4) rectangle (1566,626.2);
\node[text=cred, font=\fsz{5.8}\bfseries, inner sep=0] at (1547,620.5) {3,1891};
\draw[cred, line width=0.5pt] (1523,733.2) -- (1528,733.2);
\filldraw[fill=white!60!bg, draw=framegray, line width=0.4pt] (1528,727.8) rectangle (1566,738.7);
\node[text=cred, font=\fsz{5.8}\bfseries, inner sep=0] at (1547,733.4) {-45,430};
\draw[volline, line width=0.5pt] (1523,803.2) -- (1525,803.2);
\filldraw[fill=white!60!bg, draw=framegray, line width=0.4pt] (1525,798) rectangle (1562,808.4);
\node[text=volline, font=\fsz{5.8}\bfseries, inner sep=0] at (1543.5,803.4) {0,4889};
\node[font=\fsz{5.9}\bfseries, inner sep=0] at (391,872.5) {2025};
\node[font=\fsz{5.9}\bfseries, inner sep=0] at (1157,872.5) {2026};
\draw[framegray, line width=0.4pt] (782,866) -- (782,882);
\end{scope}
\end{tikzpicture}
\end{document}
